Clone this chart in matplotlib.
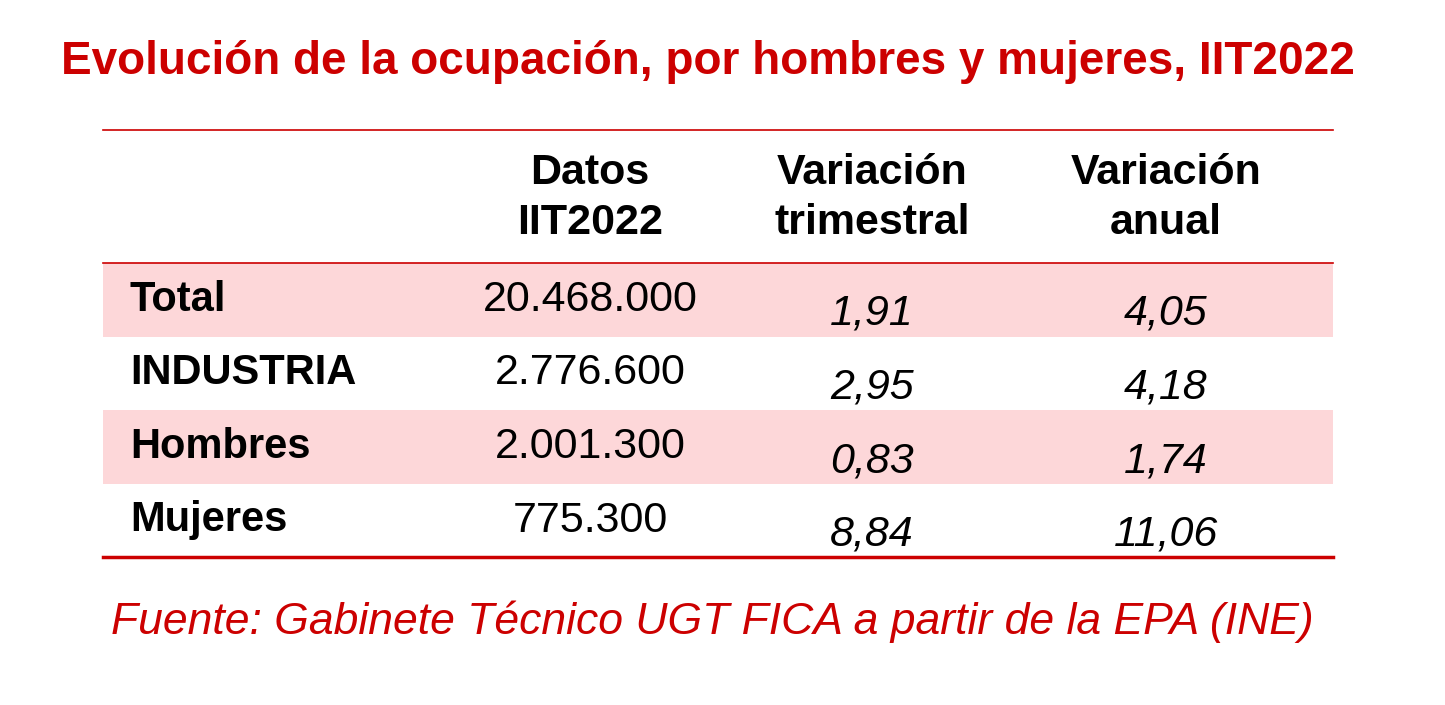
import matplotlib
matplotlib.use("Agg")
import matplotlib.pyplot as plt
from matplotlib.patches import Rectangle

title = "Evolución de la ocupación, por hombres y mujeres, IIT2022"
headers = ["Datos\nIIT2022", "Variación\ntrimestral", "Variación\nanual"]
categories = ["Total", "INDUSTRIA", "Hombres", "Mujeres"]
datos = ["20.468.000", "2.776.600", "2.001.300", "775.300"]
var_trim = ["1,91", "2,95", "0,83", "8,84"]
var_anual = ["4,05", "4,18", "1,74", "11,06"]
source = "Fuente: Gabinete Técnico UGT FICA a partir de la EPA (INE)"

RED = "#cc0000"
PINK = "#fdd7d9"
FONT = ["Liberation Sans", "DejaVu Sans"]

fig = plt.figure(figsize=(14.45, 7.05), dpi=100)
ax = fig.add_axes([0, 0, 1, 1])
ax.set_xlim(0, 1445)
ax.set_ylim(705, 0)
ax.axis("off")

ax.text(708, 62, title, color=RED, fontsize=33, fontweight="bold",
        ha="center", va="center", family=FONT)

left, right = 103, 1333
ax.plot([left, right], [130, 130], color=RED, lw=1.2)
ax.plot([left, right], [263, 263], color=RED, lw=1.2)

col_x = [590, 872, 1166]
for x, h in zip(col_x, headers):
    ax.text(x, 198, h, fontsize=31, fontweight="bold", ha="center", va="center",
            family=FONT, linespacing=1.3)

row_top = 263
row_h = 73.5
for i, cat in enumerate(categories):
    y0 = row_top + i * row_h
    if i % 2 == 0:
        ax.add_patch(Rectangle((left, y0), right - left, row_h, color=PINK, lw=0, zorder=0))
    ymid = y0 + 37
    ax.text(130, ymid, cat, fontsize=30, fontweight="bold", ha="left", va="center", family=FONT)
    ax.text(col_x[0], ymid, datos[i], fontsize=31, ha="center", va="center", family=FONT)
    ax.text(col_x[1], ymid + 14, var_trim[i], fontsize=31, style="italic", ha="center", va="center", family=FONT)
    ax.text(col_x[2], ymid + 14, var_anual[i], fontsize=31, style="italic", ha="center", va="center", family=FONT)

ax.plot([left, right], [557, 557], color=RED, lw=2.5)

ax.text(712, 622, source, color=RED, fontsize=32, style="italic",
        ha="center", va="center", family=FONT)

fig.savefig("out.png", dpi=100)
